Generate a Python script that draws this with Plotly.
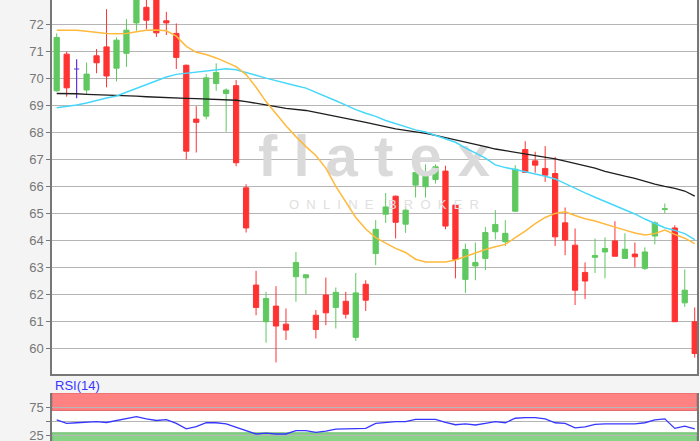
import plotly.graph_objects as go

# ---------------- data ----------------
idx = list(range(65))
open_ = [69.55, 70.91, 70.36, 69.58, 70.85, 71.18, 70.39, 70.94, 72.07, 72.65,
         73.10, 72.15, 71.68, 70.50, 68.50, 68.61, 69.82, 69.45, 69.74, 65.95,
         62.34, 60.98, 61.56, 60.89, 62.65, 62.61, 61.22, 61.97, 61.51, 61.74,
         60.40, 62.37, 63.51, 64.97, 65.64, 64.60, 66.05, 65.99, 66.26, 66.57,
         65.31, 62.55, 63.05, 63.33, 64.32, 63.95, 65.08, 67.37, 66.95, 66.67,
         66.48, 64.65, 63.82, 62.81, 63.37, 63.57, 63.98, 63.33, 63.49, 62.96,
         64.16, 65.15, 64.46, 61.68, 60.98]
high = [71.68, 71.00, 70.72, 70.60, 71.10, 72.58, 71.53, 72.21, 73.50, 73.00,
        73.30, 72.48, 72.05, 70.52, 68.98, 70.17, 70.57, 69.64, 69.95, 66.08,
        62.87, 62.09, 62.30, 61.47, 63.57, 62.75, 61.41, 62.62, 62.25, 62.09,
        62.79, 62.52, 64.75, 65.76, 65.66, 65.27, 66.82, 66.82, 66.82, 66.77,
        65.35, 63.88, 63.92, 64.50, 65.12, 64.75, 66.79, 67.68, 67.29, 67.50,
        67.10, 65.22, 64.44, 63.18, 64.07, 64.11, 64.71, 64.26, 63.92, 63.74,
        64.71, 65.37, 64.56, 62.92, 61.51]
low = [69.52, 69.33, 69.27, 69.43, 70.20, 69.68, 69.90, 70.44, 71.78, 71.83,
       71.55, 71.62, 70.36, 67.00, 67.26, 68.49, 69.55, 68.03, 66.75, 64.29,
       61.22, 60.20, 59.47, 60.30, 61.72, 62.00, 60.36, 60.85, 60.73, 61.10,
       60.27, 61.38, 63.08, 64.65, 64.07, 64.28, 65.59, 65.59, 66.11, 64.41,
       62.59, 62.05, 62.52, 62.90, 64.03, 63.79, 65.06, 66.50, 66.51, 66.17,
       63.79, 63.45, 61.60, 61.82, 62.79, 62.59, 63.41, 63.33, 63.00, 62.90,
       63.85, 65.00, 60.98, 61.53, 59.65]
close = [71.53, 69.66, 70.36, 70.17, 70.59, 70.10, 71.43, 71.80, 73.30, 72.17,
         71.70, 72.07, 70.79, 67.31, 68.38, 70.03, 70.23, 69.58, 66.88, 64.46,
         61.51, 61.84, 60.82, 60.67, 63.18, 62.72, 60.69, 61.31, 62.07, 61.26,
         62.05, 61.78, 64.41, 65.24, 64.67, 65.12, 66.52, 66.52, 66.73, 64.53,
         63.29, 63.66, 63.18, 64.29, 64.59, 64.26, 66.64, 66.52, 66.79, 66.42,
         64.13, 64.01, 62.15, 62.49, 63.44, 63.70, 63.41, 63.67, 63.39, 63.57,
         64.65, 65.17, 60.98, 62.15, 59.80]
doji_index = [2]

ma_fast = [71.80, 71.80, 71.80, 71.76, 71.72, 71.68, 71.67, 71.68, 71.74, 71.80,
           71.81, 71.78, 71.58, 71.20, 70.98, 70.90, 70.77, 70.62, 70.45, 70.15,
           69.68, 69.15, 68.70, 68.25, 67.85, 67.48, 67.15, 66.68, 66.00, 65.40,
           64.85, 64.42, 64.10, 63.90, 63.70, 63.55, 63.30, 63.20, 63.20, 63.20,
           63.27, 63.40, 63.55, 63.66, 63.76, 63.85, 64.10, 64.34, 64.62, 64.85,
           65.00, 65.06, 64.92, 64.80, 64.72, 64.60, 64.48, 64.38, 64.27, 64.20,
           64.25, 64.38, 64.22, 64.08, 63.88]
ma_mid = [68.92, 68.97, 69.02, 69.10, 69.20, 69.28, 69.36, 69.50, 69.64, 69.80,
          69.94, 70.06, 70.16, 70.20, 70.23, 70.28, 70.33, 70.37, 70.33, 70.24,
          70.13, 70.02, 69.92, 69.82, 69.74, 69.65, 69.50, 69.33, 69.18, 69.02,
          68.85, 68.72, 68.60, 68.45, 68.33, 68.20, 68.10, 68.02, 67.90, 67.77,
          67.64, 67.43, 67.25, 67.05, 66.80, 66.70, 66.63, 66.55, 66.45, 66.38,
          66.28, 66.10, 65.92, 65.76, 65.60, 65.45, 65.30, 65.14, 64.98, 64.79,
          64.62, 64.47, 64.37, 64.25, 64.03]
ma_slow = [69.45, 69.45, 69.44, 69.42, 69.41, 69.39, 69.37, 69.36, 69.35, 69.33,
           69.31, 69.29, 69.28, 69.27, 69.26, 69.24, 69.22, 69.20, 69.20, 69.15,
           69.08, 69.02, 68.96, 68.90, 68.86, 68.82, 68.75, 68.67, 68.60, 68.52,
           68.45, 68.38, 68.30, 68.20, 68.14, 68.08, 68.03, 67.97, 67.90, 67.82,
           67.74, 67.66, 67.57, 67.48, 67.39, 67.33, 67.27, 67.22, 67.16, 67.10,
           67.02, 66.94, 66.86, 66.77, 66.68, 66.56, 66.46, 66.38, 66.30, 66.19,
           66.09, 66.00, 65.93, 65.83, 65.64]
rsi = [53, 47, 48, 49, 50, 48.5, 52, 55, 59, 55,
       52, 53.5, 47, 37, 41, 48, 48, 46, 40, 35,
       28, 29.5, 28, 28, 34, 34, 31, 33, 36.5, 37,
       38, 38, 47, 49, 50, 50, 54, 54, 54, 48.5,
       44.5, 46, 44, 47, 50, 48, 56, 57, 57, 55,
       48, 47, 39, 40.5, 45, 46, 46, 46, 46, 48,
       53, 55, 38, 42, 37]

price_ticks = list(range(60, 73))
top_tick = 73  # partially visible label above the plot edge
rsi_tickvals = [25, 50, 75]
rsi_ticktext = ["25", "", "75"]
rsi_label = "RSI(14)"

# ---------------- style ----------------
GREEN = "rgb(95,200,95)"
RED = "rgb(255,50,50)"
PURPLE = "rgb(100,50,225)"
ORANGE = "rgb(255,185,60)"
CYAN = "rgb(70,215,250)"
BLACK = "rgb(30,30,30)"
BLUE = "rgb(55,55,255)"
GRID = "#b5b5b5"
AX = "#777777"
FONT = "Liberation Sans, Arial, sans-serif"

W, H = 700, 441
main_top, main_bot = 0, 374
rsi_top = 393
x_range = [-0.47, 64.23]
y_range = [59.04, 72.92]
rsi_range = [15.5, 101]

main_i = [i for i in idx if i not in doji_index]

fig = go.Figure()

# watermark (below everything)
wx = x_range[0] + (374 - 52) / (697 - 52) * (x_range[1] - x_range[0])
def py(px):
    return y_range[1] - (px - main_top) / (main_bot - main_top) * (y_range[1] - y_range[0])
fig.add_trace(go.Scatter(x=[wx], y=[py(161)], mode="text", text=["f l a t e x"],
                         textfont=dict(size=58, color="#dadada", family=FONT, weight="bold"),
                         hoverinfo="skip", showlegend=False, cliponaxis=False))
fig.add_trace(go.Scatter(x=[wx + 1.0], y=[py(206)], mode="text",
                         text=["O\u00a0\u00a0N\u00a0\u00a0L\u00a0\u00a0I\u00a0\u00a0N\u00a0\u00a0E\u00a0\u00a0\u00a0\u00a0B\u00a0\u00a0R\u00a0\u00a0O\u00a0\u00a0K\u00a0\u00a0E\u00a0\u00a0R"],
                         textfont=dict(size=13, color="#e0e0e0", family=FONT),
                         hoverinfo="skip", showlegend=False))

fig.add_trace(go.Candlestick(
    x=main_i,
    open=[open_[i] for i in main_i], high=[high[i] for i in main_i],
    low=[low[i] for i in main_i], close=[close[i] for i in main_i],
    increasing=dict(line=dict(color=GREEN, width=1), fillcolor=GREEN),
    decreasing=dict(line=dict(color=RED, width=1), fillcolor=RED),
    whiskerwidth=0, showlegend=False, xaxis="x", yaxis="y"))
fig.add_trace(go.Candlestick(
    x=doji_index,
    open=[open_[i] for i in doji_index], high=[high[i] for i in doji_index],
    low=[low[i] for i in doji_index], close=[close[i] for i in doji_index],
    increasing=dict(line=dict(color=PURPLE, width=1.2), fillcolor=PURPLE),
    decreasing=dict(line=dict(color=PURPLE, width=1.2), fillcolor=PURPLE),
    whiskerwidth=0, showlegend=False, xaxis="x", yaxis="y"))

for arr, col, w in [(ma_slow, BLACK, 1.3), (ma_mid, CYAN, 1.5), (ma_fast, ORANGE, 1.5)]:
    fig.add_trace(go.Scatter(x=idx, y=arr, mode="lines", line=dict(color=col, width=w),
                             hoverinfo="skip", showlegend=False, xaxis="x", yaxis="y"))

fig.add_trace(go.Scatter(x=idx, y=rsi, mode="lines", line=dict(color=BLUE, width=1.3),
                         hoverinfo="skip", showlegend=False, xaxis="x2", yaxis="y2"))

fig.update_layout(
    width=W, height=H,
    margin=dict(l=52, r=3, t=0, b=0, autoexpand=False),
    paper_bgcolor="#f4f4f4", plot_bgcolor="white",
    showlegend=False,
    font=dict(family=FONT, size=13, color=AX),
    boxgap=0.25,
    xaxis=dict(domain=[0, 1], anchor="y", range=x_range, showticklabels=False,
               showgrid=False, zeroline=False, showline=True, linecolor=AX, linewidth=1.5,
               rangeslider=dict(visible=False), fixedrange=True, automargin=False),
    yaxis=dict(domain=[(H - main_bot) / H, 1], anchor="x", range=y_range,
               tickvals=price_ticks, showgrid=True, gridcolor=GRID, gridwidth=1.3,
               ticks="outside", ticklen=4, tickcolor=AX, showline=True, linecolor=AX,
               linewidth=1.5, mirror=True, zeroline=False, automargin=False,
               ticklabeloverflow="allow",
               tickfont=dict(size=13, color=AX, family=FONT)),
    xaxis2=dict(domain=[0, 1], anchor="y2", range=x_range, showticklabels=False,
                showgrid=False, zeroline=False, showline=False, automargin=False),
    yaxis2=dict(domain=[0, (H - rsi_top) / H], anchor="x2", range=rsi_range,
                tickvals=rsi_tickvals, ticktext=rsi_ticktext, showgrid=True,
                gridcolor=GRID, gridwidth=1.3, ticks="outside", ticklen=4, tickcolor=AX,
                showline=True, linecolor=AX, linewidth=1.5, mirror=True, zeroline=False,
                automargin=False, ticklabeloverflow="allow",
                tickfont=dict(size=13, color=AX, family=FONT)),
    shapes=[
        dict(type="rect", xref="x2 domain", yref="y2", x0=0, x1=1, y0=70, y1=rsi_range[1],
             fillcolor="rgb(255,130,130)", line=dict(color="rgb(225,100,100)", width=1),
             layer="below"),
        dict(type="rect", xref="x2 domain", yref="y2", x0=0, x1=1, y0=rsi_range[0] - 5, y1=30,
             fillcolor="rgb(135,212,135)", line=dict(color="rgb(105,185,105)", width=1),
             layer="below"),
    ],
    annotations=[
        dict(text=rsi_label, xref="paper", yref="paper", x=0, y=(H - 385) / H,
             xanchor="left", yanchor="middle", showarrow=False, xshift=1,
             font=dict(size=13, color=BLUE, family=FONT)),
        dict(text=str(top_tick), xref="paper", yref="y", x=0, y=top_tick,
             xanchor="right", yanchor="middle", showarrow=False, xshift=-5,
             font=dict(size=13, color=AX, family=FONT)),
    ],
)

fig.write_html("out.html", config={"displayModeBar": False},
               post_script="document.body.style.margin='0';document.body.style.overflow='hidden';")
